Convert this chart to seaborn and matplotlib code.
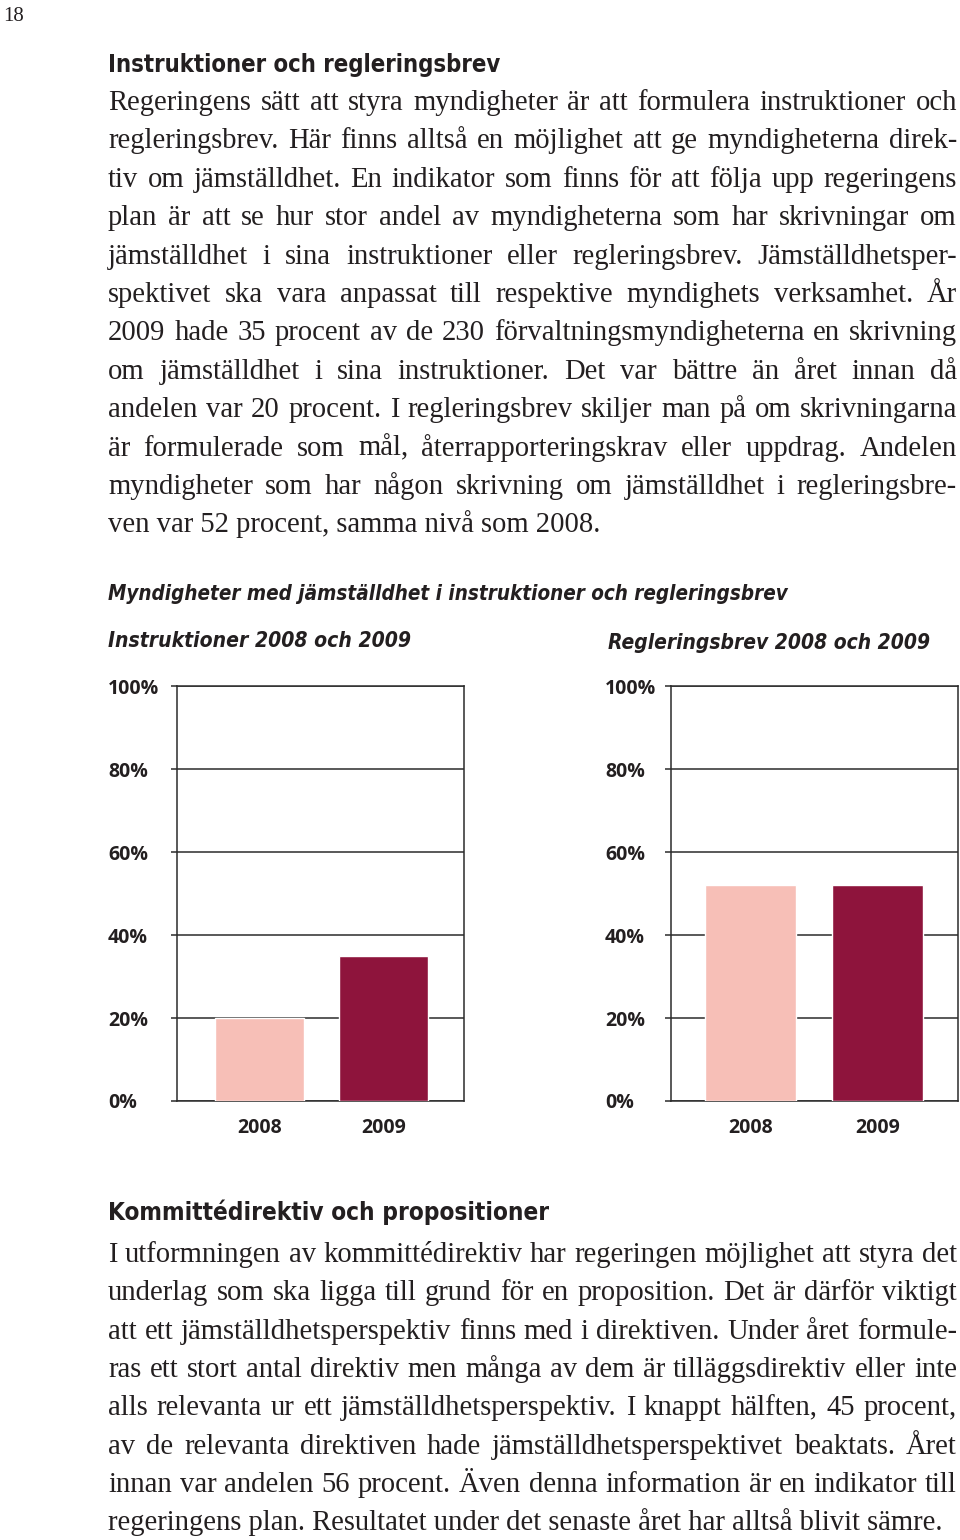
import matplotlib
matplotlib.use("Agg")
import matplotlib.pyplot as plt
import seaborn as sns
import pandas as pd
from matplotlib import font_manager

# ---------------- data ----------------
years = ["2008", "2009"]
instr_values = [20, 35]
regl_values = [52, 52]
y_ticks = [0, 20, 40, 60, 80, 100]
y_tick_labels = ["0%", "20%", "40%", "60%", "80%", "100%"]
bar_colors = ["#F7BFB7", "#8E143C"]

page_number = "18"
heading1 = "Instruktioner och regleringsbrev"
para1 = [
    "Regeringens sätt att styra myndigheter är att formulera instruktioner och",
    "regleringsbrev. Här finns alltså en möjlighet att ge myndigheterna direk-",
    "tiv om jämställdhet. En indikator som finns för att följa upp regeringens",
    "plan är att se hur stor andel av myndigheterna som har skrivningar om",
    "jämställdhet i sina instruktioner eller regleringsbrev. Jämställdhetsper-",
    "spektivet ska vara anpassat till respektive myndighets verksamhet. År",
    "2009 hade 35 procent av de 230 förvaltningsmyndigheterna en skrivning",
    "om jämställdhet i sina instruktioner. Det var bättre än året innan då",
    "andelen var 20 procent. I regleringsbrev skiljer man på om skrivningarna",
    "är formulerade som mål, återrapporteringskrav eller uppdrag. Andelen",
    "myndigheter som har någon skrivning om jämställdhet i regleringsbre-",
    "ven var 52 procent, samma nivå som 2008.",
]
chart_title = "Myndigheter med jämställdhet i instruktioner och regleringsbrev"
left_title = "Instruktioner 2008 och 2009"
right_title = "Regleringsbrev 2008 och 2009"
heading2 = "Kommittédirektiv och propositioner"
para2 = [
    "I utformningen av kommittédirektiv har regeringen möjlighet att styra det",
    "underlag som ska ligga till grund för en proposition. Det är därför viktigt",
    "att ett jämställdhetsperspektiv finns med i direktiven. Under året formule-",
    "ras ett stort antal direktiv men många av dem är tilläggsdirektiv eller inte",
    "alls relevanta ur ett jämställdhetsperspektiv. I knappt hälften, 45 procent,",
    "av de relevanta direktiven hade jämställdhetsperspektivet beaktats. Året",
    "innan var andelen 56 procent. Även denna information är en indikator till",
    "regeringens plan. Resultatet under det senaste året har alltså blivit sämre.",
]

# ---------------- style ----------------
sns.set_theme(style="white")
plt.rcParams["font.family"] = ["Open Sans", "DejaVu Sans"]

fonts = font_manager.fontManager.ttflist
available = {f.name for f in fonts}
SANS = "Open Sans" if "Open Sans" in available else "DejaVu Sans"
HEAD = "Roboto" if "Roboto" in available else SANS
head_kw = dict(family=HEAD)
# prefer a real condensed face when one is installed
if "Liberation Sans Narrow" in available:
    head_kw = dict(family="Liberation Sans Narrow")
elif any(f.name == "DejaVu Sans" and f.stretch == "condensed" for f in fonts):
    head_kw = dict(family="DejaVu Sans", stretch="condensed")
SERIF = "Liberation Serif" if "Liberation Serif" in available else "DejaVu Serif"
INK = "#231F20"
LINE = "#2b2b2b"

W, H = 960, 1540
fig = plt.figure(figsize=(W / 100, H / 100), dpi=100)
fig.patch.set_facecolor("white")
renderer = fig.canvas.get_renderer()


def ftext(x, y, s, **kw):
    kw.setdefault("color", INK)
    return fig.text(x / W, 1 - y / H, s, va="baseline", ha="left", **kw)


def width_of(s, size, **kw):
    t = fig.text(0, 0, s, fontsize=size, **kw)
    w = t.get_window_extent(renderer).width
    t.remove()
    return w


def fit_size(s, width, **kw):
    return 20 * width / width_of(s, 20, **kw)


def justified(lines, x0, x1, y0, dy, size, **kw):
    for i, line in enumerate(lines):
        y = y0 + i * dy
        if i == len(lines) - 1:
            ftext(x0, y, line, fontsize=size, **kw)
            continue
        words = line.split(" ")
        texts = [ftext(0, y, w, fontsize=size, **kw) for w in words]
        widths = [t.get_window_extent(renderer).width for t in texts]
        gap = (x1 - x0 - sum(widths)) / (len(words) - 1)
        x = x0
        for t, w in zip(texts, widths):
            t.set_x(x / W)
            x += w + gap


# page number
ftext(3, 21, page_number, fontsize=15, family=SERIF)

# body font size fit so widest justified line fits the column
serif_kw = dict(family=SERIF)
widest = max(width_of(l, 20, **serif_kw) for l in para1[:-1] + para2[:-1])
body_size = 20 * 849 / widest * 0.995

# heading 1 + paragraph 1
hb = dict(head_kw, weight="bold")
ftext(108, 72, heading1, fontsize=fit_size(heading1, 395, **hb), **hb)
justified(para1, 108, 957, 110, 38.4, body_size, **serif_kw)

# chart titles
t_kw = dict(head_kw, weight="bold", style="italic")
ftext(108, 600, chart_title, fontsize=fit_size(chart_title, 680, **t_kw), **t_kw)
ftext(108, 647, left_title, fontsize=fit_size(left_title, 303, **t_kw), **t_kw)
ftext(608, 649, right_title, fontsize=fit_size(right_title, 321, **t_kw), **t_kw)

# heading 2 + paragraph 2
ftext(108, 1220, heading2, fontsize=fit_size(heading2, 441, **hb), **hb)
justified(para2, 108, 957, 1262, 38.3, body_size, **serif_kw)


# ---------------- charts ----------------
def draw_chart(left_px, values, xlim, pad_px):
    ax = fig.add_axes([left_px / W, 1 - 1101 / H, 287 / W, 415 / H])
    df = pd.DataFrame({"year": years, "value": values})
    sns.barplot(data=df, x="year", y="value", hue="year", palette=bar_colors,
                width=0.72, saturation=1, legend=False, ax=ax, zorder=3)
    ax.set_axisbelow(True)
    ax.set_ylim(0, 100)
    ax.set_xlim(*xlim)
    ax.set_yticks(y_ticks)
    ax.set_yticklabels(y_tick_labels, ha="left", family=SANS, weight="bold",
                       fontsize=14, color=INK)
    for lab in ax.get_xticklabels():
        lab.set_family(SANS)
        lab.set_weight("bold")
        lab.set_fontsize(14)
        lab.set_color(INK)
    ax.yaxis.grid(True, color=LINE, linewidth=1.1)
    ax.xaxis.grid(False)
    for sp in ax.spines.values():
        sp.set_visible(True)
        sp.set_color(LINE)
        sp.set_linewidth(1.1)
    ax.tick_params(axis="y", left=True, length=4.3, width=1.1, color=LINE,
                   pad=(pad_px - 6) * 0.72)
    ax.tick_params(axis="x", bottom=False, length=0, pad=12.5)
    ax.set_xlabel("")
    ax.set_ylabel("")
    ax.set_facecolor("white")
    return ax


draw_chart(177, instr_values, (-0.665, 1.65), 69)
draw_chart(671, regl_values, (-0.626, 1.634), 66)

fig.savefig("out.png", dpi=100, facecolor="white")
